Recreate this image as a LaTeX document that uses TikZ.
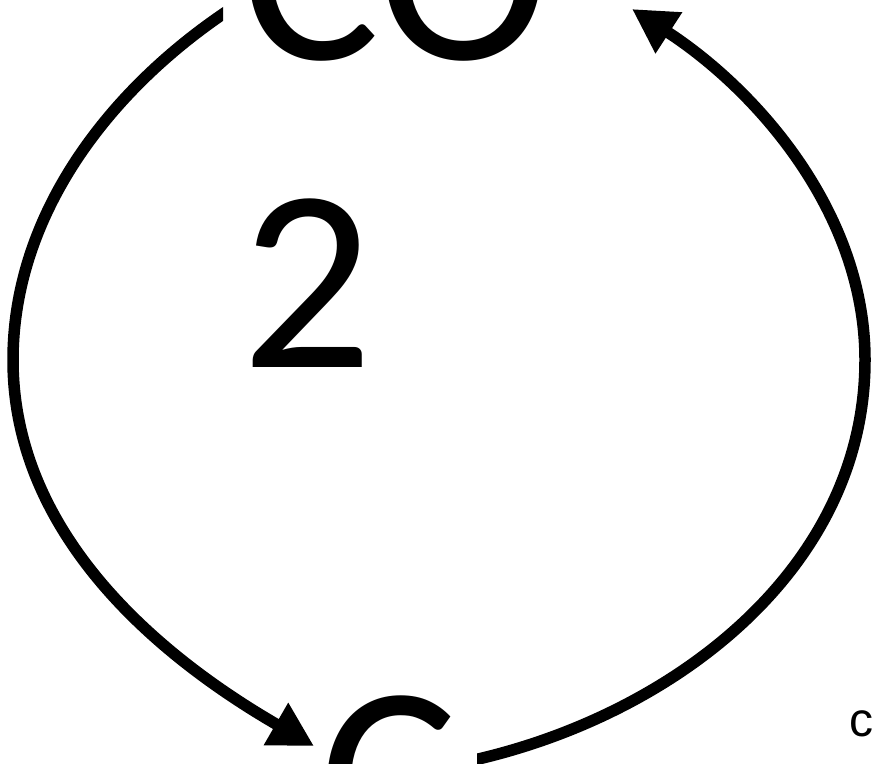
\documentclass[tikz,border=0pt]{standalone}
\usepackage{fontspec}
\newfontfamily\cyclefont{Carlito}
\newfontfamily\notefont{Liberation Sans}
\usetikzlibrary{arrows.meta}

\begin{document}
\begin{tikzpicture}[x=1pt, y=1pt,
    species/.style={inner sep=0pt, font=\cyclefont\fontsize{260}{308}\selectfont},
    cycle/.style={line width=11.5pt, -{Triangle[length=44pt, width=46pt]}}]
    \useasboundingbox (0,0) rectangle (872,763);
    \node (co2) [species, anchor=base west, align=left] at (241,395) {CO\\2};
    \node (c) [species, anchor=base west] at (319,-101) {C};
    \node (note) [anchor=base west, inner sep=0pt, font=\notefont\fontsize{48}{58}\selectfont] at (849,27) {c};

    \coordinate (west) at (13,403);
    \coordinate (east) at (865,403);
    \coordinate (co2 out) at (235,757);
    \coordinate (co2 in) at (632,754);
    \coordinate (c out) at (465,1);
    \coordinate (c in) at (314,17);

    % CO2 -> C
    \begin{scope}
        \clip (-20,-20) rectangle (223,783) (223,-20) rectangle (400,400);
        \draw[cycle] (co2 out) to[out=213, in=90, looseness=0.9] (west)
            to[out=270, in=150, looseness=0.92] (c in);
    \end{scope}
    % C -> CO2
    \begin{scope}
        \clip (477,-20) rectangle (900,783);
        \draw[cycle] (c out) to[out=12, in=270, looseness=0.95] (east)
            to[out=90, in=327, looseness=0.9] (co2 in);
    \end{scope}
\end{tikzpicture}
\end{document}
